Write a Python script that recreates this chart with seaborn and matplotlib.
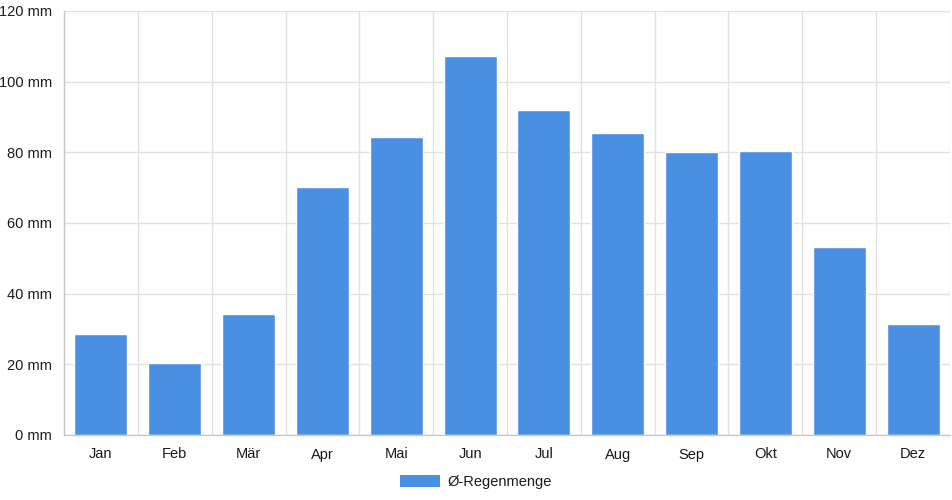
import matplotlib

matplotlib.use("Agg")
import matplotlib.pyplot as plt
import matplotlib.patches as mpatches
import numpy as np
import pandas as pd
import seaborn as sns

months = ["Jan", "Feb", "Mär", "Apr", "Mai", "Jun", "Jul", "Aug", "Sep", "Okt", "Nov", "Dez"]
rain_mm = [28.6, 20.4, 34.2, 70.2, 84.3, 107.3, 92.0, 85.5, 80.1, 80.4, 53.2, 31.4]
y_ticks = [0, 20, 40, 60, 80, 100, 120]
series_label = "Ø-Regenmenge"

BAR_COLOR = "#4a90e2"
GRID_COLOR = "#e1e1e1"
AXIS_COLOR = "#c8c8c8"
TEXT_COLOR = "#1a1a1a"

sns.set_theme(style="white")
plt.rcParams["font.family"] = ["Liberation Sans", "DejaVu Sans"]

data = pd.DataFrame({"month": months, "rain": rain_mm})

fig = plt.figure(figsize=(9.52, 5.0), dpi=100)
ax = fig.add_axes([64 / 952, 65 / 500, 886 / 952, 424 / 500])

sns.barplot(data=data, x="month", y="rain", color=BAR_COLOR, saturation=1, width=0.72, ax=ax)

ax.set_xlim(-0.5, len(months) - 0.5)
ax.set_ylim(0, 120)
ax.set_yticks(y_ticks)
ax.set_yticklabels([f"{v} mm" for v in y_ticks])
ax.set_xlabel("")
ax.set_ylabel("")

# tick lengths are in points: 8 px at 100 dpi is about 5.8 pt
ax.set_xticks(np.arange(-0.5, len(months)), minor=True)
ax.tick_params(axis="x", which="major", length=0, pad=9, labelsize=10.5, colors=TEXT_COLOR)
ax.tick_params(axis="x", which="minor", length=5.8, color=GRID_COLOR, width=1)
ax.tick_params(axis="y", which="major", length=5.8, width=1, pad=2.9, labelsize=10.5, colors=TEXT_COLOR)
ax.tick_params(axis="y", which="major", color=GRID_COLOR)

ax.grid(axis="y", which="major", color=GRID_COLOR, linewidth=1)
ax.grid(axis="x", which="minor", color=GRID_COLOR, linewidth=1)
ax.grid(axis="x", which="major", visible=False)
ax.set_axisbelow(True)

for side in ["top", "right"]:
    ax.spines[side].set_visible(False)
for side in ["left", "bottom"]:
    ax.spines[side].set_color(AXIS_COLOR)
    ax.spines[side].set_linewidth(1)

handle = mpatches.Patch(facecolor=BAR_COLOR, edgecolor="none", label=series_label)
legend = fig.legend(
    handles=[handle],
    loc="center",
    bbox_to_anchor=(0.5, 1 - 482 / 500),
    frameon=False,
    fontsize=10.5,
    handlelength=2.75,
    handleheight=0.9,
    handletextpad=0.5,
)
for text in legend.get_texts():
    text.set_color(TEXT_COLOR)

fig.savefig("out.png", dpi=100)
plt.close(fig)
